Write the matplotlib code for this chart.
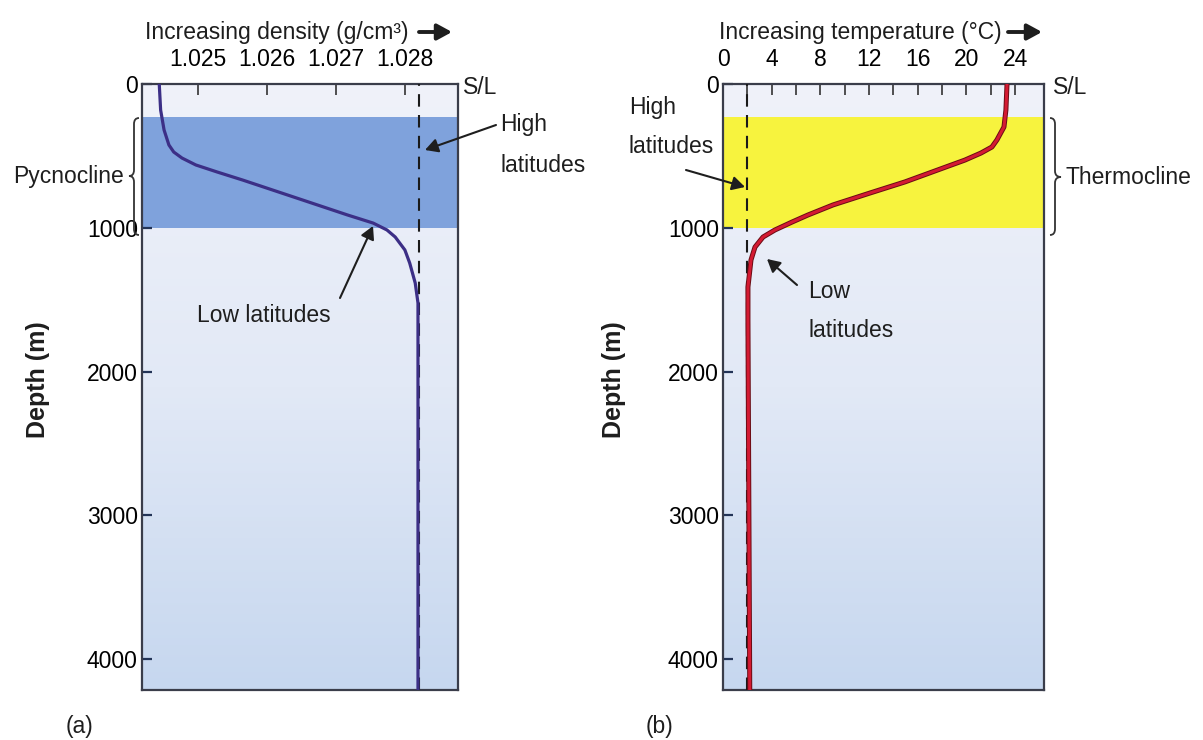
import numpy as np
import matplotlib
matplotlib.use("Agg")
import matplotlib.pyplot as plt
from matplotlib import font_manager as fm
from matplotlib.path import Path
from matplotlib.patches import PathPatch, FancyArrowPatch
from matplotlib.colors import LinearSegmentedColormap
import matplotlib.patheffects as pe

# ---------------- data ----------------
depth_ticks = [0, 1000, 2000, 3000, 4000]
depth_max = 4214

density_ticks = [1.025, 1.026, 1.027, 1.028]
density_tick_labels = ["1.025", "1.026", "1.027", "1.028"]
density_xlim = (1.02419, 1.02877)

temp_ticks = [0, 4, 8, 12, 16, 20, 24]
temp_minor_ticks = [2, 6, 10, 14, 18, 22]
temp_xlim = (0, 26.38)

# low-latitude density profile (depth m, density g/cm3)
density_depth = [0, 181, 320, 424, 473, 515, 563, 612, 668, 807, 911, 967,
                 1015, 1064, 1154, 1245, 1384, 1523, 4250]
density_low_lat = [1.02444, 1.02446, 1.02451, 1.02458, 1.02465, 1.02477,
                   1.02497, 1.02528, 1.02565, 1.02652, 1.02717, 1.02754,
                   1.02774, 1.02786, 1.02800, 1.02807, 1.02815, 1.02819,
                   1.02819]
density_high_lat = 1.02821

# low-latitude temperature profile (depth m, temperature C)
temp_depth = [0, 181, 299, 389, 438, 480, 529, 577, 681, 758, 841, 911, 960,
              1015, 1064, 1134, 1224, 1412, 1641, 4250]
temp_low_lat = [23.34, 23.25, 23.09, 22.51, 22.10, 21.20, 19.88, 18.32, 14.95,
                12.08, 9.04, 6.98, 5.67, 4.27, 3.29, 2.63, 2.30, 2.05, 2.05,
                2.2]
temp_high_lat = 2.0

pycnocline = (230, 1000)
thermocline = (230, 1000)

# ---------------- fonts ----------------
names = {f.name for f in fm.fontManager.ttflist}
if "Liberation Sans Narrow" in names:
    FONT = ["Liberation Sans Narrow", "DejaVu Sans"]
    FS = 19.5
else:
    FONT = ["Liberation Sans", "DejaVu Sans"]
    FS = 16.5
plt.rcParams["font.family"] = FONT

W, H = 1203, 740
fig = plt.figure(figsize=(W / 100, H / 100), dpi=100)


def P(x, y):
    return (x / W, 1 - y / H)


def axes_px(x0, y0, x1, y1):
    return fig.add_axes([x0 / W, 1 - y1 / H, (x1 - x0) / W, (y1 - y0) / H])


bg_cmap = LinearSegmentedColormap.from_list(
    "bg", ["#f0f2fa", "#e2e9f6", "#c6d7ef"])
SPINE = "#3a3d4a"


def setup(ax, xlim, band, band_color):
    grad = np.linspace(0, 1, 256).reshape(-1, 1)
    ax.imshow(grad, aspect="auto", cmap=bg_cmap,
              extent=[xlim[0], xlim[1], depth_max, 0], zorder=0,
              origin="upper")
    ax.axhspan(band[0], band[1], color=band_color, lw=0, zorder=1)
    ax.set_xlim(*xlim)
    ax.set_ylim(depth_max, 0)
    for s in ax.spines.values():
        s.set_color(SPINE)
        s.set_linewidth(1.6)
    ax.xaxis.tick_top()
    ax.set_yticks(depth_ticks)
    ax.set_yticklabels([str(d) for d in depth_ticks])
    ax.tick_params(axis="y", direction="in", length=7, width=1.6,
                   color="#233457", pad=3, labelsize=FS, right=False)
    ax.tick_params(axis="x", which="both", direction="in", length=8,
                   width=1.2, color="#333333", pad=9, labelsize=FS,
                   bottom=False, top=True)


# ---------------- left panel: density ----------------
ax1 = axes_px(142, 84, 458, 690)
setup(ax1, density_xlim, pycnocline, "#7fa2dc")
ax1.set_xticks(density_ticks)
ax1.set_xticklabels(density_tick_labels)
ax1.axvline(density_high_lat, ls=(0, (6, 4)), lw=1.5, color="#1a1a1a",
            zorder=3)
ax1.plot(density_low_lat, density_depth, color="#3c2f86", lw=2.3, zorder=4,
         solid_capstyle="butt")

# ---------------- right panel: temperature ----------------
ax2 = axes_px(723, 84, 1044, 690)
setup(ax2, temp_xlim, thermocline, "#f7f33e")
ax2.set_xticks(temp_ticks)
ax2.set_xticklabels([str(t) for t in temp_ticks])
ax2.set_xticks(temp_minor_ticks, minor=True)
ax2.axvline(temp_high_lat, ls=(0, (6, 4)), lw=1.5, color="#1a1a1a",
            zorder=3)
ax2.plot(temp_low_lat, temp_depth, color="#d41a32", lw=2.2, zorder=4,
         path_effects=[pe.Stroke(linewidth=3.6, foreground="#6a0c14"),
                       pe.Normal()])

# ---------------- texts ----------------
def txt(x, y, s, ha="left", va="baseline", **kw):
    kw.setdefault("fontsize", FS)
    kw.setdefault("color", "#1e1e1e")
    fig.text(*P(x, y), s, ha=ha, va=va, **kw)


def arrow(x0, y0, x1, y1, lw=1.5, ms=14):
    fig.add_artist(FancyArrowPatch(
        P(x0, y0), P(x1, y1), transform=fig.transFigure,
        arrowstyle="-|>,head_length=0.55,head_width=0.3",
        mutation_scale=ms, lw=lw, color="#1e1e1e", shrinkA=0, shrinkB=0))


txt(145, 39, "Increasing density (g/cm³)")
arrow(419, 32, 452, 32, lw=2.8, ms=16)
txt(719, 39, "Increasing temperature (°C)")
arrow(1008, 32, 1042, 32, lw=2.8, ms=16)

txt(463, 88, "S/L", va="center")
txt(1053, 88, "S/L", va="center")

txt(124, 176, "Pycnocline", ha="right", va="center")
txt(1066, 177, "Thermocline", va="center")

txt(500, 131, "High")
txt(500, 172, "latitudes")
arrow(496, 125, 425, 150)

txt(629, 114, "High")
txt(629, 153, "latitudes")
arrow(686, 170, 745, 187)

txt(197, 322, "Low latitudes")
arrow(340, 298, 373, 226)

txt(808, 298, "Low")
txt(808, 337, "latitudes")
arrow(797, 285, 767, 259)

dep_font = ["Liberation Sans", "DejaVu Sans"]
fig.text(*P(38, 380), "Depth (m)", rotation=90, ha="center", va="center",
         fontsize=18, fontweight="bold", family=dep_font, color="#1e1e1e")
fig.text(*P(614, 380), "Depth (m)", rotation=90, ha="center", va="center",
         fontsize=18, fontweight="bold", family=dep_font, color="#1e1e1e")

txt(66, 726, "(a)", va="center")
txt(646, 726, "(b)", va="center")


# ---------------- braces ----------------
def brace(xs, xe, xt, y0, y1, ym):
    v = [(xe, y0), (xs, y0), (xs, y0 + 6),
         (xs, ym - 6),
         (xs, ym), (xt, ym),
         (xs, ym), (xs, ym + 6),
         (xs, y1 - 6),
         (xs, y1), (xe, y1)]
    c = [Path.MOVETO, Path.CURVE3, Path.CURVE3, Path.LINETO,
         Path.CURVE3, Path.CURVE3, Path.CURVE3, Path.CURVE3,
         Path.LINETO, Path.CURVE3, Path.CURVE3]
    v = [P(x, y) for x, y in v]
    fig.add_artist(PathPatch(Path(v, c), fill=False, lw=1.3,
                             edgecolor="#333333",
                             transform=fig.transFigure))


brace(134, 139, 129, 118, 235, 176)
brace(1055, 1050, 1061, 118, 235, 177)

fig.savefig("out.png", dpi=100)
